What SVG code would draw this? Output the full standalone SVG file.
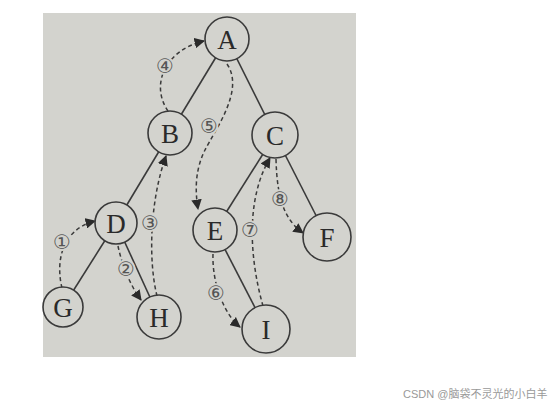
<svg xmlns="http://www.w3.org/2000/svg" width="558" height="411" viewBox="0 0 558 411">
<defs>
<style>
.n circle{fill:#d3d3ce;stroke:#3a3a3a;stroke-width:1.6}
.n text{font-family:"Liberation Serif",serif;font-size:27px;fill:#2a2a2a;text-anchor:middle;dominant-baseline:central}
.e line{stroke:#3a3a3a;stroke-width:1.6}
.d path{fill:none;stroke:#3a3a3a;stroke-width:1.5;stroke-dasharray:4 3}
.lbl{font-family:"DejaVu Sans",sans-serif;font-size:20px;fill:#555;text-anchor:middle;dominant-baseline:central;stroke:#d3d3ce;stroke-width:4;paint-order:stroke}
.wm{font-family:"Liberation Sans","Noto Sans CJK SC",sans-serif;font-size:11px;fill:#999}
</style>
<marker id="ah" viewBox="0 0 10 10" refX="9" refY="5" markerWidth="7" markerHeight="7" orient="auto"><path d="M0,0 L10,5 L0,10 z" fill="#2a2a2a"/></marker>
</defs>
<rect width="558" height="411" fill="#fff"/>
<rect x="43" y="13" width="313" height="344" fill="#d3d3ce"/>
<g id="edges" class="e">
<line x1="227" y1="39" x2="170" y2="133"/>
<line x1="227" y1="39" x2="275" y2="135"/>
<line x1="170" y1="133" x2="116" y2="223"/>
<line x1="275" y1="135" x2="215" y2="230"/>
<line x1="275" y1="135" x2="327" y2="237"/>
<line x1="116" y1="223" x2="63" y2="307"/>
<line x1="116" y1="223" x2="159" y2="317"/>
<line x1="215" y1="230" x2="266" y2="329"/>
</g>
<g id="connectors" class="d">
<path d="M62,288 C56,264 60,230 95,221" marker-end="url(#ah)"/>
<path d="M118,246 C122,265 130,285 141,300" marker-end="url(#ah)"/>
<path d="M157,296 C148,260 150,200 166,156" marker-end="url(#ah)"/>
<path d="M168,111 C150,85 165,50 204,41" marker-end="url(#ah)"/>
<path d="M227,64 C245,90 215,130 205,150 C195,170 195,190 198,209" marker-end="url(#ah)"/>
<path d="M213,254 C212,285 225,315 240,327" marker-end="url(#ah)"/>
<path d="M263,306 C250,260 245,200 270,158" marker-end="url(#ah)"/>
<path d="M276,159 C277,200 285,220 303,233" marker-end="url(#ah)"/>
</g>
<g id="labels">
<text class="lbl" x="62" y="242">①</text>
<text class="lbl" x="126" y="269">②</text>
<text class="lbl" x="150" y="223">③</text>
<text class="lbl" x="165" y="66">④</text>
<text class="lbl" x="209" y="126">⑤</text>
<text class="lbl" x="216" y="293">⑥</text>
<text class="lbl" x="250" y="230">⑦</text>
<text class="lbl" x="280" y="199">⑧</text>
</g>
<g id="A" class="n"><circle cx="227" cy="39" r="22"/><text x="227" y="40">A</text></g>
<g id="B" class="n"><circle cx="170" cy="133" r="22"/><text x="170" y="134">B</text></g>
<g id="C" class="n"><circle cx="275" cy="135" r="23"/><text x="275" y="136">C</text></g>
<g id="D" class="n"><circle cx="116" cy="223" r="21"/><text x="116" y="224">D</text></g>
<g id="E" class="n"><circle cx="215" cy="230" r="22"/><text x="215" y="231">E</text></g>
<g id="F" class="n"><circle cx="327" cy="237" r="24"/><text x="327" y="238">F</text></g>
<g id="G" class="n"><circle cx="63" cy="307" r="20"/><text x="63" y="308">G</text></g>
<g id="H" class="n"><circle cx="159" cy="317" r="22"/><text x="159" y="318">H</text></g>
<g id="I" class="n"><circle cx="266" cy="329" r="24"/><text x="266" y="330">I</text></g>
<text class="wm" x="403" y="398">CSDN @脑袋不灵光的小白羊</text>
</svg>
